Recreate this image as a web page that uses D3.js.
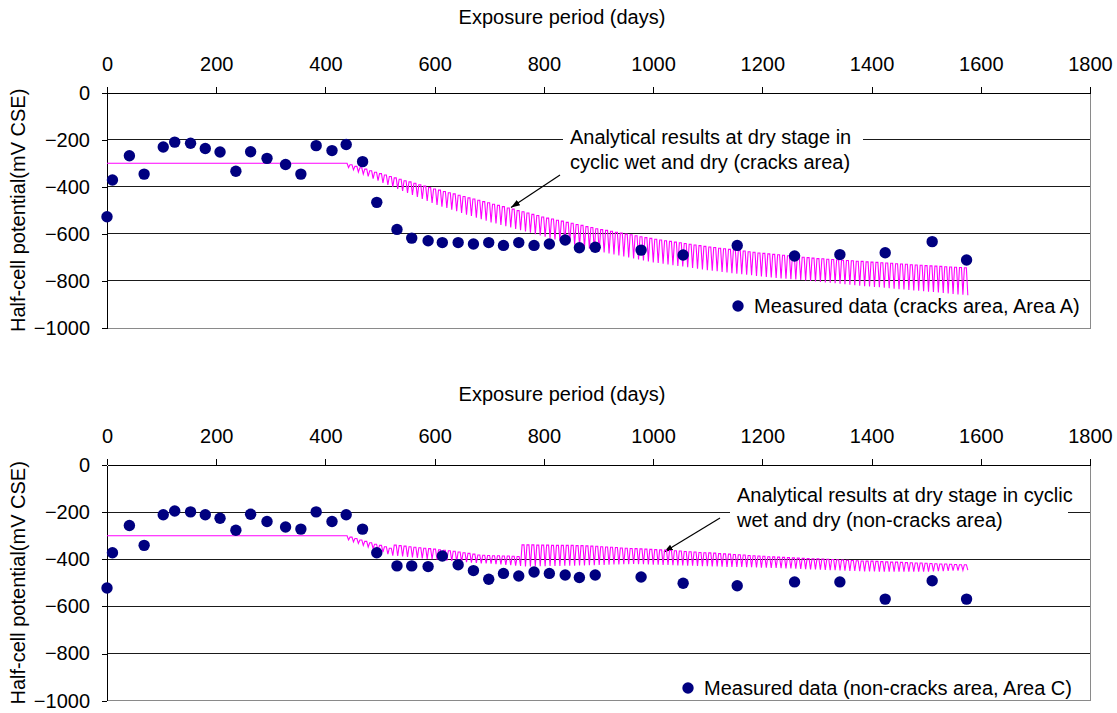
<!DOCTYPE html>
<html><head><meta charset="utf-8">
<script src="https://cdn.jsdelivr.net/npm/d3@7"></script>
<style>
body{margin:0;background:#fff}
svg{display:block}
text{font-family:"Liberation Sans",Arial,sans-serif;fill:#000}
</style>
</head><body>
<svg id="chart" width="1117" height="713"></svg>
<script>
// ---------- data ----------
const xTicks = [0, 200, 400, 600, 800, 1000, 1200, 1400, 1600, 1800];
const yTicks = [0, -200, -400, -600, -800, -1000];

const measuredDays = [0, 10, 41, 68, 103, 124, 153, 180, 207, 236, 263, 293, 327, 355, 383, 412, 438, 468, 494, 531, 558, 588, 614, 643, 671, 699, 726, 754, 782, 810, 839, 865, 894, 978, 1055, 1154, 1259, 1342, 1425, 1511, 1574];
const measuredA = [-527, -371, -268, -346, -231, -210, -215, -237, -252, -334, -251, -279, -305, -346, -225, -246, -220, -293, -466, -581, -618, -629, -637, -637, -643, -637, -649, -637, -649, -643, -626, -659, -657, -669, -690, -649, -694, -688, -680, -633, -711];
const measuredC = [-522, -372, -257, -341, -211, -195, -199, -211, -226, -277, -209, -240, -263, -272, -199, -240, -211, -272, -372, -428, -428, -431, -386, -423, -448, -485, -460, -471, -454, -460, -467, -477, -467, -475, -502, -512, -496, -496, -569, -491, -569];

// analytical: constant stage before cycling
const flatDays = [0, 436];
const flatA = [-300, -300];
const flatC = [-300, -300];
// analytical: wet/dry cycles, start day and cycle length (days)
const cycleStart = 436;
const cycleLength = 9;
// per-cycle peak (dry) and trough values
const upperA = [-300,-306,-313,-319,-325,-332,-338,-344,-350,-356,
-362,-368,-374,-379,-385,-391,-397,-403,-409,-414,
-420,-425,-430,-436,-441,-447,-452,-457,-463,-468,
-474,-479,-484,-490,-495,-501,-506,-511,-517,-522,
-528,-533,-537,-542,-546,-551,-555,-560,-564,-569,
-573,-578,-582,-585,-589,-593,-597,-601,-604,-608,
-612,-616,-619,-623,-626,-629,-632,-635,-638,-641,
-644,-647,-650,-653,-656,-658,-661,-663,-666,-668,
-671,-673,-676,-678,-681,-683,-685,-687,-689,-691,
-693,-695,-697,-699,-701,-703,-705,-706,-708,-709,
-710,-712,-713,-714,-716,-717,-719,-720,-721,-723,
-724,-725,-727,-728,-729,-731,-732,-733,-735,-736,
-737,-738,-740,-741,-742,-743,-744];
const lowerA = [-318,-328,-337,-346,-356,-365,-374,-383,-392,-400,
-409,-417,-426,-435,-443,-452,-460,-469,-477,-484,
-490,-497,-504,-511,-518,-524,-531,-538,-544,-551,
-556,-562,-567,-573,-579,-584,-590,-595,-601,-607,
-612,-618,-624,-629,-635,-641,-646,-652,-658,-663,
-669,-675,-679,-683,-687,-692,-696,-700,-704,-709,
-713,-717,-721,-724,-727,-730,-733,-736,-739,-742,
-745,-748,-751,-754,-757,-759,-762,-764,-767,-769,
-771,-774,-776,-779,-781,-783,-785,-787,-789,-791,
-793,-794,-796,-798,-800,-802,-804,-806,-808,-810,
-812,-814,-816,-818,-820,-822,-824,-826,-827,-829,
-831,-833,-835,-836,-838,-840,-842,-844,-846,-847,
-849,-851,-853,-855,-857,-859,-861];
const upperC = [-300,-306,-312,-318,-324,-330,-336,-341,-347,-353,
-340,-342,-344,-347,-349,-351,-353,-355,-357,-360,
-362,-364,-366,-369,-372,-375,-378,-382,-383,-384,
-385,-385,-386,-386,-387,-388,-339,-339,-339,-340,
-340,-340,-341,-341,-341,-341,-341,-342,-342,-343,
-344,-345,-347,-348,-349,-350,-352,-353,-354,-355,
-356,-357,-358,-359,-360,-361,-363,-364,-365,-367,
-368,-369,-371,-372,-373,-374,-376,-377,-378,-380,
-381,-382,-384,-385,-386,-387,-389,-390,-391,-392,
-393,-394,-395,-396,-397,-398,-398,-399,-400,-401,
-402,-403,-404,-405,-406,-407,-408,-408,-409,-410,
-411,-412,-412,-413,-414,-415,-416,-416,-417,-418,
-419,-420,-420,-421,-422,-423,-423];
const lowerC = [-318,-326,-333,-341,-348,-355,-363,-370,-378,-385,
-386,-388,-390,-392,-394,-396,-398,-400,-402,-404,
-406,-407,-409,-411,-412,-414,-415,-417,-418,-419,
-421,-422,-424,-425,-427,-428,-430,-430,-429,-429,
-429,-428,-428,-428,-427,-427,-427,-426,-426,-425,
-425,-424,-424,-423,-422,-422,-421,-421,-420,-421,
-421,-422,-423,-423,-424,-424,-425,-426,-426,-427,
-427,-428,-429,-429,-430,-430,-431,-432,-432,-433,
-433,-434,-434,-435,-436,-436,-437,-437,-438,-439,
-439,-440,-441,-442,-443,-443,-444,-445,-446,-446,
-447,-448,-449,-449,-450,-451,-452,-452,-453,-453,
-453,-453,-453,-453,-452,-452,-452,-452,-452,-451,
-450,-450,-449,-448,-448,-447,-446];

const xTitle = "Exposure period (days)";
const yTitle = "Half-cell potential(mV CSE)";
const notesA = ["Analytical results at dry stage in", "cyclic wet and dry (cracks area)"];
const notesC = ["Analytical results at dry stage in cyclic", "wet and dry (non-cracks area)"];
const legendA = "Measured data (cracks area, Area A)";
const legendC = "Measured data (non-cracks area, Area C)";

// ---------- layout ----------
const svg = d3.select("#chart");
const FS = 20;
const FF = "Liberation Sans, Arial, sans-serif";
const left = 107, right = 1090;
const x = d3.scaleLinear().domain([0, 1800]).range([left, right]);

const defs = svg.append("defs");
defs.append("marker").attr("id", "arr").attr("viewBox", "0 0 10 10")
  .attr("refX", 10).attr("refY", 5).attr("markerWidth", 9).attr("markerHeight", 9)
  .attr("markerUnits", "userSpaceOnUse").attr("orient", "auto")
  .append("path").attr("d", "M0,1.5 L10,5 L0,8.5 Z").attr("fill", "#000");

const panels = [
  {top: 92.7, bottom: 328, titleY: 24, measured: measuredA, flat: flatA, upper: upperA, lower: lowerA,
   notes: notesA, noteX: 570, noteY: 144, box: [563, 124, 300, 50],
   arrow: [[560, 175], [511, 207.5]], legend: legendA, legX: 738, legY: 306},
  {top: 465, bottom: 700.7, titleY: 401, measured: measuredC, flat: flatC, upper: upperC, lower: lowerC,
   notes: notesC, noteX: 737, noteY: 502, box: [730, 482, 338, 50],
   arrow: [[720, 518], [664, 552]], legend: legendC, legX: 688, legY: 688}
];

panels.forEach(p => {
  const y = d3.scaleLinear().domain([0, -1000]).range([p.top, p.bottom]);
  const g = svg.append("g");

  // gridlines
  g.selectAll(".grid").data(yTicks.filter(v => v !== 0 && v !== -1000)).enter()
    .append("line").attr("x1", left).attr("x2", right)
    .attr("y1", d => y(d)).attr("y2", d => y(d))
    .attr("stroke", "#1a1a1a").attr("stroke-width", 1).attr("shape-rendering", "crispEdges");

  // right & bottom border
  g.append("path")
    .attr("d", `M${right},${y(0)}V${y(-1000)}H${left}`)
    .attr("fill", "none").attr("stroke", "#8a8a8a").attr("shape-rendering", "crispEdges");

  // top axis
  const ax = g.append("g").attr("transform", `translate(0,${y(0)})`)
    .call(d3.axisTop(x).tickValues(xTicks).tickSizeInner(6).tickSizeOuter(0).tickPadding(16)
      .tickFormat(d3.format("d")));
  ax.select(".domain").attr("stroke", "#000");
  ax.selectAll("line").attr("stroke", "#000");
  ax.selectAll("text").attr("font-size", FS).attr("font-family", FF);
  ax.attr("shape-rendering", "crispEdges");

  // left axis
  const ay = g.append("g").attr("transform", `translate(${left},0)`)
    .call(d3.axisLeft(y).tickValues(yTicks).tickSizeInner(5).tickSizeOuter(0).tickPadding(12)
      .tickFormat(d3.format("d")));
  ay.select(".domain").attr("stroke", "#000");
  ay.selectAll("line").attr("stroke", "#000");
  ay.selectAll("text").attr("font-size", FS).attr("font-family", FF);
  ay.attr("shape-rendering", "crispEdges");

  // axis titles
  g.append("text").attr("x", 562).attr("y", p.titleY).attr("text-anchor", "middle")
    .attr("font-size", FS).text(xTitle);
  const cy = (y(0) + y(-1000)) / 2;
  g.append("text").attr("transform", `translate(25,${cy}) rotate(-90)`)
    .attr("text-anchor", "middle").attr("font-size", FS).text(yTitle);

  // annotation box + text + arrow
  g.append("rect").attr("x", p.box[0]).attr("y", p.box[1]).attr("width", p.box[2]).attr("height", p.box[3])
    .attr("fill", "#fff");
  p.notes.forEach((t, i) => {
    g.append("text").attr("x", p.noteX).attr("y", p.noteY + i * 24.5).attr("font-size", FS).text(t);
  });
  g.append("line").attr("x1", p.arrow[0][0]).attr("y1", p.arrow[0][1])
    .attr("x2", p.arrow[1][0]).attr("y2", p.arrow[1][1])
    .attr("stroke", "#000").attr("stroke-width", 1.2).attr("marker-end", "url(#arr)");

  // analytical line: dry stage value held, then a quick drop to the wet-stage trough
  const pts = flatDays.map((d, i) => [d, p.flat[i]]);
  p.upper.forEach((u, k) => {
    const t = cycleStart + k * cycleLength;
    pts.push([t, u]);
    pts.push([t + cycleLength * 0.4, u]);
    pts.push([t + cycleLength * 0.7, p.lower[k]]);
  });
  g.append("path").datum(pts)
    .attr("d", d3.line().x(d => x(d[0])).y(d => y(d[1])))
    .attr("fill", "none").attr("stroke", "#ff00ff").attr("stroke-width", 1.1);

  // measured points
  g.selectAll(".pt").data(measuredDays.map((d, i) => [d, p.measured[i]])).enter()
    .append("circle").attr("cx", d => x(d[0])).attr("cy", d => y(d[1])).attr("r", 5.7)
    .attr("fill", "#000080");

  // legend
  g.append("circle").attr("cx", p.legX).attr("cy", p.legY).attr("r", 5.7).attr("fill", "#000080");
  g.append("text").attr("x", p.legX + 16).attr("y", p.legY + 7).attr("font-size", FS).text(p.legend);
});
</script>
</body></html>
